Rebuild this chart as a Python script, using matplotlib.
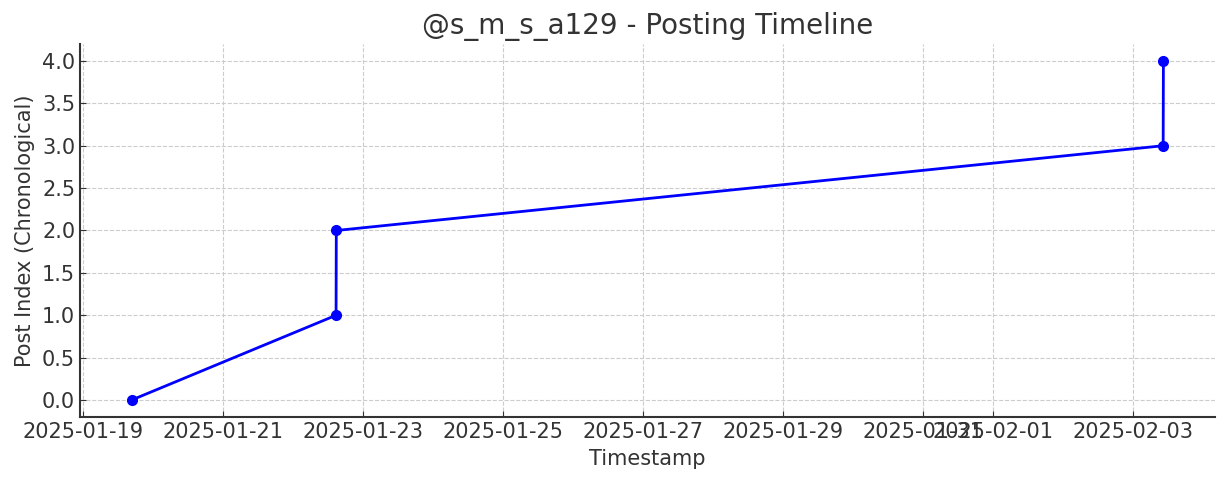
import matplotlib
matplotlib.use("Agg")
import matplotlib.pyplot as plt
from matplotlib.ticker import MultipleLocator, FormatStrFormatter
import pandas as pd

# post timestamps
timestamps = pd.to_datetime([
    "2025-01-19 16:40",
    "2025-01-22 14:45",
    "2025-01-22 14:50",
    "2025-02-03 10:15",
    "2025-02-03 10:20",
])
post_index = [0, 1, 2, 3, 4]

text_color = "#333333"
plt.rcParams["text.color"] = text_color
plt.rcParams["axes.labelcolor"] = text_color
plt.rcParams["xtick.color"] = text_color
plt.rcParams["ytick.color"] = text_color

fig = plt.figure(figsize=(12.26, 4.83), dpi=100)
ax = fig.add_axes([80 / 1226, 1 - 417 / 483, (1215 - 80) / 1226, (417 - 44) / 483])

ax.plot(timestamps, post_index, marker="o", color="blue", linewidth=2, markersize=7)

ax.set_title("@s_m_s_a129 - Posting Timeline", fontsize=20, pad=7)
ax.set_xlabel("Timestamp", fontsize=15, labelpad=5)
ax.set_ylabel("Post Index (Chronological)", fontsize=15, labelpad=5)
ax.yaxis.set_major_locator(MultipleLocator(0.5))
ax.yaxis.set_major_formatter(FormatStrFormatter("%.1f"))
ax.tick_params(axis="both", labelsize=15, direction="in", length=4)
ax.grid(True, linestyle="--", color="#cccccc", linewidth=0.8)
for s in ["top", "right"]:
    ax.spines[s].set_visible(False)
for s in ["left", "bottom"]:
    ax.spines[s].set_color(text_color)
    ax.spines[s].set_linewidth(1.5)

fig.savefig("out.png")
